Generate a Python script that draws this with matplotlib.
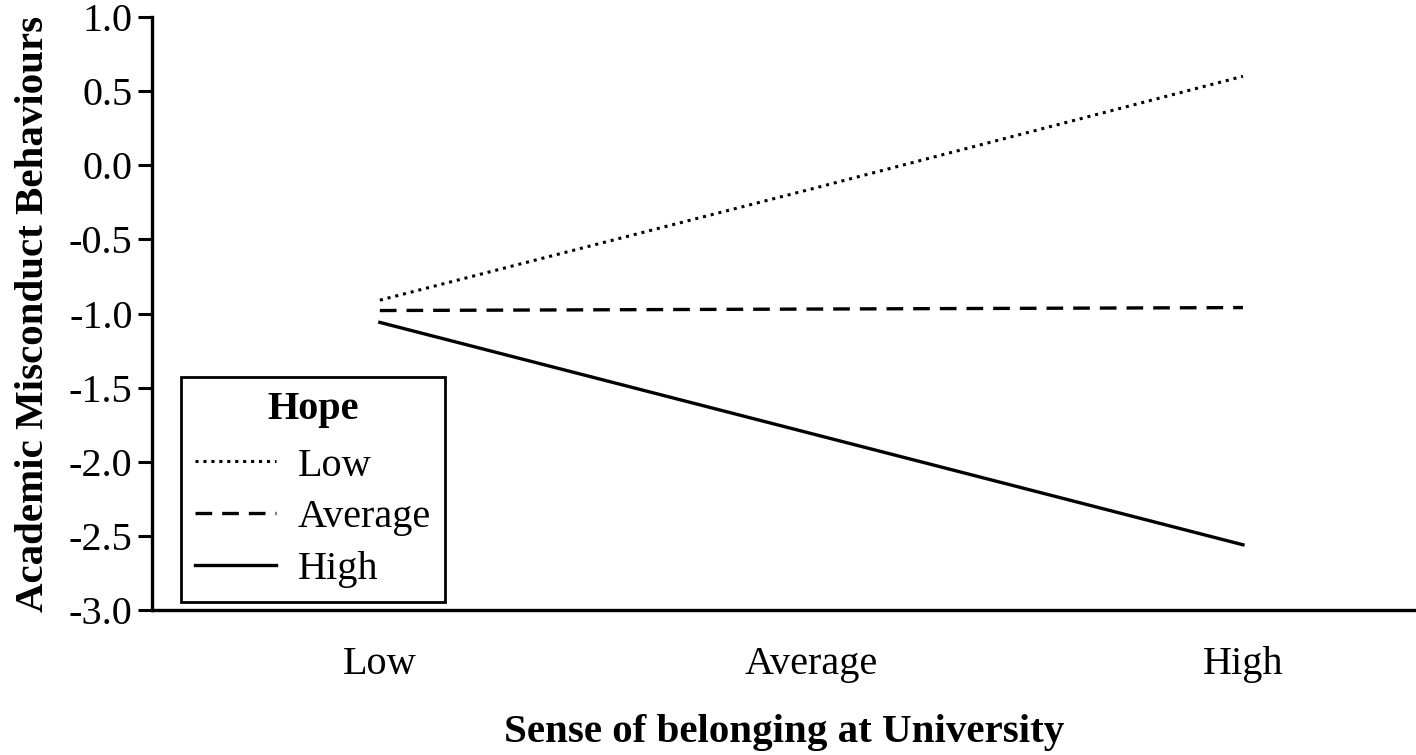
import matplotlib.pyplot as plt

# Simple slopes data
belonging = ['Low', 'Average', 'High']
hope_low = [-0.91, -0.16, 0.60]
hope_avg = [-0.98, -0.97, -0.96]
hope_high = [-1.06, -1.81, -2.56]
y_ticks = [-3.0, -2.5, -2.0, -1.5, -1.0, -0.5, 0.0, 0.5, 1.0]

plt.rcParams['font.family'] = ['Liberation Serif', 'DejaVu Serif']

fig = plt.figure(figsize=(14.16, 7.55), dpi=100)
ax = fig.add_axes([152 / 1416, 1 - 610 / 755, 1264 / 1416, 593 / 755])

x = range(len(belonging))
ax.plot(x, hope_low, color='black', linestyle=(0, (1, 1.6)), linewidth=2.2, label='Low')
ax.plot(x, hope_avg, color='black', linestyle=(0, (5, 3)), linewidth=2.4, label='Average')
ax.plot(x, hope_high, color='black', linestyle='-', linewidth=2.4, label='High')

ax.set_xlim(-0.528, 2.401)
ax.set_ylim(-3.0, 1.0)
ax.set_xticks(list(x))
ax.set_xticklabels(belonging, fontsize=29)
ax.set_yticks(y_ticks)
ax.set_yticklabels([f'{v:.1f}' for v in y_ticks], fontsize=29)
ax.tick_params(axis='x', length=0, pad=26)
ax.tick_params(axis='y', length=10, width=2.2, direction='out', pad=4)

for side in ['top', 'right']:
    ax.spines[side].set_visible(False)
for side in ['left', 'bottom']:
    ax.spines[side].set_linewidth(2.4)

ax.set_xlabel('Sense of belonging at University', fontsize=29.5, fontweight='bold', labelpad=22)
ax.set_ylabel('Academic Misconduct Behaviours', fontsize=29.5, fontweight='bold', labelpad=12)

leg = ax.legend(title='Hope', loc='lower left', bbox_to_anchor=(0.023, 0.0135),
                borderaxespad=0, fontsize=29, fancybox=False, edgecolor='black',
                framealpha=1, handlelength=2.0, handletextpad=0.55,
                labelspacing=0.36, borderpad=0.35)
leg.get_title().set_fontweight('bold')
leg.get_title().set_fontsize(29)
leg.get_frame().set_linewidth(2.0)
leg._legend_box.sep = 14

fig.savefig('out.png', dpi=100)
